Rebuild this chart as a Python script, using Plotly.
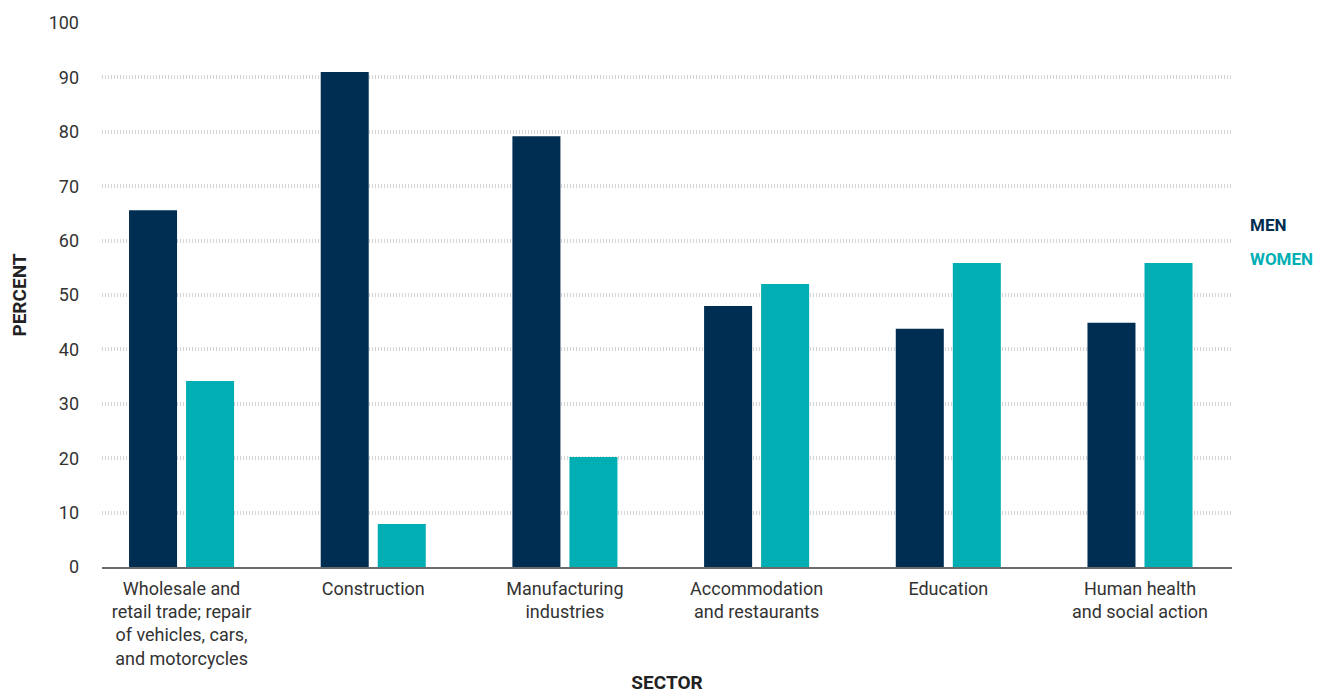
import plotly.graph_objects as go

categories = [
    "Wholesale and<br>retail trade; repair<br>of vehicles, cars,<br>and motorcycles",
    "Construction",
    "Manufacturing<br>industries",
    "Accommodation<br>and restaurants",
    "Education",
    "Human health<br>and social action",
]
men = [65.6, 91.0, 79.2, 48.0, 43.8, 44.9]
women = [34.2, 7.9, 20.2, 52.0, 55.9, 55.9]
y_ticks = [0, 10, 20, 30, 40, 50, 60, 70, 80, 90, 100]

NAVY = "#002D52"
TEAL = "#00AEB4"
FONT = "Roboto, Arial, sans-serif"

fig = go.Figure()
fig.add_trace(go.Bar(x=categories, y=men, name="MEN", marker=dict(color=NAVY, line=dict(width=0))))
fig.add_trace(go.Bar(x=categories, y=women, name="WOMEN", marker=dict(color=TEAL, line=dict(width=0))))

fig.update_layout(
    width=1318, height=694,
    margin=dict(l=102, r=86, t=23, b=127, autoexpand=False),
    paper_bgcolor="white", plot_bgcolor="white",
    barmode="group", bargap=0.405, bargroupgap=0.158,
    showlegend=False,
    font=dict(family=FONT, size=18, color="#333333"),
)
fig.update_xaxes(
    range=[-0.415, 5.48], automargin=False,
    showline=True, linecolor="#6b6b6b", linewidth=2,
    showgrid=False, ticks="", ticklabelstandoff=4,
    tickfont=dict(family=FONT, size=18, color="#333333"),
    title=dict(text="<b>SECTOR</b>", font=dict(family=FONT, size=19, color="#222222"), standoff=14),
)
fig.update_yaxes(
    range=[0, 100], tickvals=y_ticks, automargin=False,
    showgrid=True, gridcolor="#d4d4d4", gridwidth=4, griddash="1px,2px",
    zeroline=False, showline=False, ticks="", ticklabelstandoff=22,
    tickfont=dict(family=FONT, size=18, color="#333333"),
    title=dict(text="<b>PERCENT</b>", font=dict(family=FONT, size=19, color="#222222"), standoff=16),
)
fig.add_annotation(x=1248, y=225, xref="paper", yref="paper", text="<b>MEN</b>", showarrow=False,
                   xanchor="left", yanchor="middle", font=dict(family=FONT, size=17, color=NAVY))
fig.add_annotation(x=1248, y=259, xref="paper", yref="paper", text="<b>WOMEN</b>", showarrow=False,
                   xanchor="left", yanchor="middle", font=dict(family=FONT, size=17, color=TEAL))
# convert pixel positions of legend labels to paper coordinates
pw = 1318 - 102 - 86
ph = 694 - 23 - 127
for ann in fig.layout.annotations:
    ann.x = (ann.x - 102) / pw
    ann.y = 1 - (ann.y - 23) / ph
fig.write_html("out.html")
